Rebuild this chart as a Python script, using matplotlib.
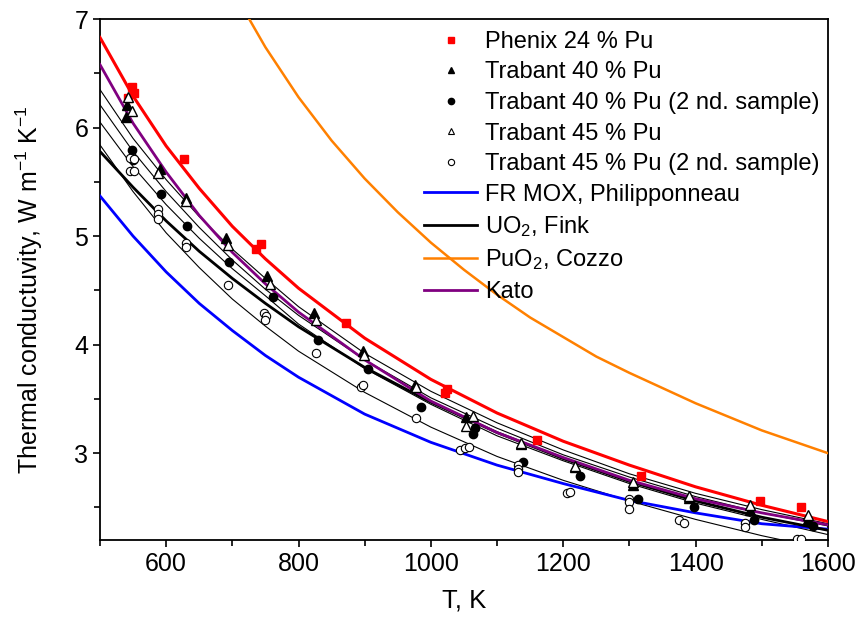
import matplotlib
matplotlib.use("Agg")
import matplotlib.pyplot as plt
from matplotlib.lines import Line2D
from matplotlib.ticker import MultipleLocator

plt.rcParams["font.family"] = ["Liberation Sans", "DejaVu Sans"]
plt.rcParams["mathtext.fontset"] = "custom"
plt.rcParams["mathtext.rm"] = "Liberation Sans"
plt.rcParams["mathtext.it"] = "Liberation Sans:italic"

# --- correlation curves, k in W/m/K vs T in K ---
T_grid = [500, 550, 600, 650, 700, 750, 800, 900, 1000, 1100, 1200, 1300, 1400, 1500, 1600]
k_phenix_fit = [6.83, 6.29, 5.83, 5.44, 5.09, 4.79, 4.52, 4.06, 3.68, 3.37, 3.11, 2.89, 2.69, 2.52, 2.37]
k_kato = [6.58, 6.04, 5.59, 5.19, 4.85, 4.56, 4.30, 3.86, 3.48, 3.19, 2.96, 2.75, 2.58, 2.45, 2.34]
k_philipponneau = [5.37, 5.00, 4.67, 4.38, 4.13, 3.90, 3.70, 3.36, 3.10, 2.89, 2.72, 2.565, 2.45, 2.35, 2.30]
k_fink = [5.78, 5.45, 5.14, 4.86, 4.61, 4.38, 4.165, 3.79, 3.47, 3.19, 2.95, 2.74, 2.56, 2.41, 2.29]
# thin fits of the Trabant samples
k_fit_a = [6.35, 5.90, 5.52, 5.18, 4.88, 4.61, 4.35, 3.92, 3.57, 3.28, 3.03, 2.81, 2.63, 2.48, 2.35]
k_fit_b = [6.21, 5.78, 5.41, 5.08, 4.78, 4.51, 4.27, 3.86, 3.51, 3.23, 2.985, 2.78, 2.60, 2.45, 2.33]
k_fit_c = [6.05, 5.64, 5.29, 4.98, 4.70, 4.45, 4.19, 3.78, 3.45, 3.16, 2.93, 2.72, 2.54, 2.39, 2.25]
k_fit_d = [5.84, 5.41, 5.03, 4.71, 4.42, 4.17, 3.94, 3.56, 3.24, 2.97, 2.75, 2.56, 2.39, 2.24, 2.11]

T_cozzo = [700, 750, 800, 850, 900, 950, 1000, 1050, 1100, 1150, 1200, 1250, 1300, 1400, 1500, 1600]
k_cozzo = [7.27, 6.74, 6.28, 5.88, 5.53, 5.22, 4.94, 4.69, 4.46, 4.25, 4.07, 3.89, 3.74, 3.46, 3.21, 3.00]

# --- measurements ---
phenix_T = [542, 548, 551, 627, 736, 743, 872, 1021, 1024, 1160, 1317, 1498, 1559]
phenix_k = [6.27, 6.37, 6.32, 5.71, 4.88, 4.93, 4.20, 3.55, 3.59, 3.12, 2.79, 2.56, 2.50]

tr40_T = [540, 541, 590, 630, 691, 753, 823, 897, 976, 1053, 1136, 1218, 1305, 1390, 1482, 1570]
tr40_k = [6.10, 6.21, 5.62, 5.35, 4.98, 4.63, 4.29, 3.94, 3.63, 3.33, 3.08, 2.87, 2.71, 2.59, 2.48, 2.39]

tr40b_T = [549, 550, 592, 632, 695, 762, 830, 905, 985, 1067, 1063, 1139, 1225, 1313, 1397, 1488, 1577]
tr40b_k = [5.79, 5.70, 5.39, 5.09, 4.76, 4.44, 4.04, 3.78, 3.43, 3.23, 3.18, 2.92, 2.79, 2.58, 2.50, 2.38, 2.33]

tr45_T = [543, 548, 588, 630, 694, 757, 826, 899, 977, 1064, 1053, 1136, 1218, 1305, 1390, 1482, 1570]
tr45_k = [6.28, 6.15, 5.58, 5.32, 4.92, 4.56, 4.23, 3.90, 3.61, 3.34, 3.25, 3.09, 2.88, 2.73, 2.61, 2.52, 2.43]

tr45b_T = [546, 552, 546, 551, 588, 588, 588, 630, 630, 693, 748, 751, 750, 826, 894, 897, 977,
           1044, 1052, 1058, 1131, 1131, 1132, 1205, 1211, 1300, 1300, 1300, 1375, 1383,
           1475, 1475, 1553, 1560]
tr45b_k = [5.72, 5.71, 5.60, 5.60, 5.25, 5.20, 5.16, 4.94, 4.90, 4.55, 4.29, 4.26, 4.23, 3.92, 3.61, 3.63, 3.32,
           3.03, 3.05, 3.06, 2.89, 2.85, 2.83, 2.63, 2.64, 2.58, 2.55, 2.49, 2.38, 2.36,
           2.36, 2.32, 2.21, 2.21]

fig = plt.figure(figsize=(8.61, 6.23), dpi=100)
ax = fig.add_axes([0.1161, 0.1332, 0.8455, 0.8363])

for k in (k_fit_a, k_fit_b, k_fit_c, k_fit_d):
    ax.plot(T_grid, k, color="black", lw=0.8, zorder=2)
ax.plot(T_grid, k_philipponneau, color="#0000ff", lw=2.0, zorder=3)
ax.plot(T_grid, k_fink, color="black", lw=2.0, zorder=3)
ax.plot(T_cozzo, k_cozzo, color="#ff8000", lw=1.8, zorder=3)
ax.plot(T_grid, k_kato, color="#800080", lw=2.0, zorder=3)
ax.plot(T_grid, k_phenix_fit, color="#ff0000", lw=2.2, zorder=3)

ax.plot(phenix_T, phenix_k, ls="none", marker="s", ms=5.5, color="#ff0000", zorder=5)
ax.plot(tr40_T, tr40_k, ls="none", marker="^", ms=7.5, color="black", zorder=5)
ax.plot(tr40b_T, tr40b_k, ls="none", marker="o", ms=6, color="black", zorder=5)
ax.plot(tr45_T, tr45_k, ls="none", marker="^", ms=7.5, mfc="white", mec="black", mew=1.0, zorder=6)
ax.plot(tr45b_T, tr45b_k, ls="none", marker="o", ms=6, mfc="white", mec="black", mew=0.8, zorder=6)

ax.set_xlim(500, 1600)
ax.set_ylim(2.2, 7)
ax.xaxis.set_major_locator(MultipleLocator(200))
ax.xaxis.set_minor_locator(MultipleLocator(100))
ax.yaxis.set_major_locator(MultipleLocator(1))
ax.yaxis.set_minor_locator(MultipleLocator(0.5))
ax.tick_params(which="both", direction="out", width=1.2, labelsize=18, top=False, right=False)
ax.tick_params(which="major", length=5)
ax.tick_params(which="minor", length=4)
for s in ax.spines.values():
    s.set_linewidth(1.3)

ax.set_xlabel("T, K", fontsize=18.5, labelpad=9)
ax.set_ylabel("Thermal conductuvity, W m$^{-1}$ K$^{-1}$", fontsize=18)
ax.yaxis.set_label_coords(-0.075, 0.48)

handles = [
    Line2D([], [], ls="none", marker="s", ms=4, color="#ff0000"),
    Line2D([], [], ls="none", marker="^", ms=5, color="black"),
    Line2D([], [], ls="none", marker="o", ms=4.5, color="black"),
    Line2D([], [], ls="none", marker="^", ms=5, mfc="white", mec="black", mew=0.8),
    Line2D([], [], ls="none", marker="o", ms=4.5, mfc="white", mec="black", mew=0.8),
    Line2D([], [], color="#0000ff", lw=2.0),
    Line2D([], [], color="black", lw=2.0),
    Line2D([], [], color="#ff8000", lw=1.8),
    Line2D([], [], color="#800080", lw=2.0),
]
labels = [
    "Phenix 24 % Pu",
    "Trabant 40 % Pu",
    "Trabant 40 % Pu (2 nd. sample)",
    "Trabant 45 % Pu",
    "Trabant 45 % Pu (2 nd. sample)",
    "FR MOX, Philipponneau",
    "UO$_2$, Fink",
    "PuO$_2$, Cozzo",
    "Kato",
]
ax.legend(handles, labels, loc="upper left", bbox_to_anchor=(424 / 861, 1 - 31 / 623),
          bbox_transform=fig.transFigure, frameon=False, borderpad=0, borderaxespad=0,
          handlelength=2.25, handletextpad=0.35, labelspacing=0.36, fontsize=17)

fig.savefig("out.png", dpi=100)
